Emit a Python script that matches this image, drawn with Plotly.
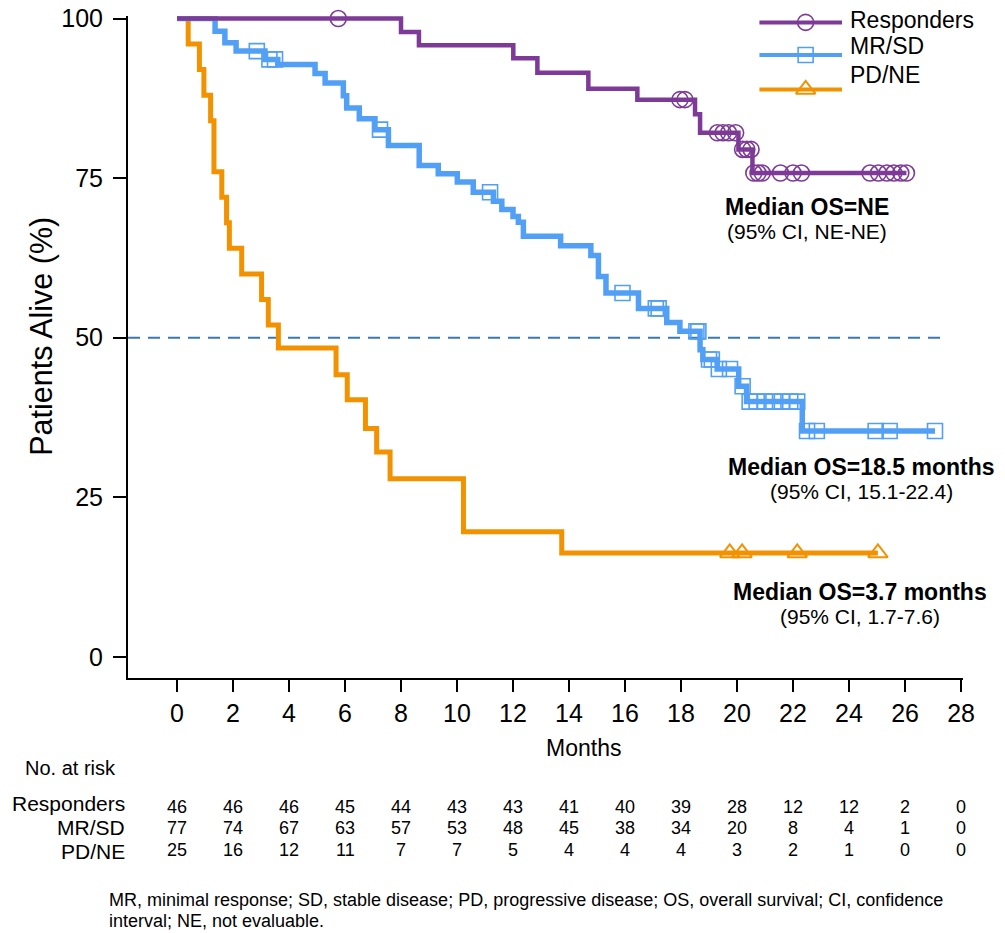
import plotly.graph_objects as go

# ---------------- data ----------------
resp_t = [0, 8.00, 8.64, 12.01, 12.87, 14.69, 16.44, 18.50, 18.68, 20.05, 20.55, 26.05]
resp_s = [100, 97.9, 95.8, 93.8, 91.5, 89.0, 87.3, 85.0, 82.1, 79.5, 75.8, 75.8]
resp_cens = [5.76, 17.96, 18.14, 19.30, 19.50, 19.70, 19.95, 20.20, 20.35, 20.50,
             20.60, 20.75, 20.90, 21.55, 22.00, 22.30, 24.75, 25.05, 25.35, 25.60, 25.85, 26.05]

mrsd_t = [0, 1.36, 1.71, 2.11, 3.14, 3.60, 4.93, 5.29, 5.94, 6.06, 6.51, 7.07, 7.55, 8.65,
          9.33, 10.01, 10.58, 11.30, 11.60, 12.00, 12.19, 12.37, 13.70, 14.78, 15.05, 15.32,
          16.48, 17.49, 17.96, 18.68, 18.78, 19.29, 20.06, 20.34, 22.33, 27.07]
mrsd_s = [100, 98.0, 96.2, 94.9, 93.6, 92.8, 91.4, 89.9, 87.9, 86.0, 84.3, 82.6, 80.1, 77.0,
          75.7, 74.4, 72.8, 71.4, 70.1, 69.0, 68.1, 65.9, 64.4, 62.9, 59.6, 57.0,
          54.6, 52.4, 51.0, 48.1, 46.6, 45.1, 42.4, 40.0, 35.4, 35.4]
mrsd_cens = [2.85, 3.30, 3.50, 7.25, 11.18, 15.91, 17.10, 17.20, 18.55, 18.62, 19.00, 19.10,
             19.35, 19.75, 20.20, 20.45, 20.70, 21.00, 21.30, 21.60, 21.90, 22.15, 22.50, 22.85,
             24.95, 25.45, 27.07]

pdne_t = [0, 0.40, 0.80, 0.96, 1.20, 1.32, 1.60, 1.77, 1.87, 2.31, 3.02, 3.26, 3.62, 5.68,
          6.08, 6.73, 7.13, 7.61, 10.23, 13.74, 25.03]
pdne_s = [100, 96, 92, 88, 84, 76, 72, 68, 64, 60, 56, 52, 48.4, 44.2, 40.3, 35.8, 32.1, 27.9,
          19.6, 16.3, 16.3]
pdne_cens = [19.74, 20.18, 22.15, 25.03]

group_names = ["Responders", "MR/SD", "PD/NE"]
risk_months = [0, 2, 4, 6, 8, 10, 12, 14, 16, 18, 20, 22, 24, 26, 28]
risk_resp = [46, 46, 46, 45, 44, 43, 43, 41, 40, 39, 28, 12, 12, 2, 0]
risk_mrsd = [77, 74, 67, 63, 57, 53, 48, 45, 38, 34, 20, 8, 4, 1, 0]
risk_pdne = [25, 16, 12, 11, 7, 7, 5, 4, 4, 4, 3, 2, 1, 0, 0]

y_ticks = [0, 25, 50, 75, 100]
x_ticks = risk_months
median_level = 50
dash_end = 27.5

medians = [("Median OS=NE", "(95% CI, NE-NE)"),
           ("Median OS=18.5 months", "(95% CI, 15.1-22.4)"),
           ("Median OS=3.7 months", "(95% CI, 1.7-7.6)")]
footnote = ["MR, minimal response; SD, stable disease; PD, progressive disease; OS, overall survival; CI, confidence",
            "interval; NE, not evaluable."]

# ---------------- styling ----------------
FONT = "Liberation Sans, Arial, Helvetica, sans-serif"
C_RESP = "#7d3a96"
C_MRSD = "#52a0f5"
C_PDNE = "#f39200"
C_DASH = "#3a78b0"

W, H = 1005, 933
L, R, T, B = 128, 42, 16.4, 255
PW, PH = W - L - R, H - T - B
XR = [-1.75, 28.07]
YR = [-3.3, 100.4]


def px_x(x):
    return (x - L) / PW


def px_y(y):
    return (H - B - y) / PH


def step_at(ts, ss, t):
    v = ss[0]
    for ti, si in zip(ts, ss):
        if ti <= t:
            v = si
    return v


fig = go.Figure()

series = [
    (pdne_t, pdne_s, pdne_cens, C_PDNE, 5, "triangle-up-open", 17, 2),
    (mrsd_t, mrsd_s, mrsd_cens, C_MRSD, 5.5, "square-open", 15, 1.6),
    (resp_t, resp_s, resp_cens, C_RESP, 4.5, "circle-open", 16, 1.6),
]
for ts, ss, cens, col, lw, sym, msz, mlw in series:
    fig.add_trace(go.Scatter(x=ts, y=ss, mode="lines", line=dict(color=col, width=lw, shape="hv"),
                             showlegend=False, hoverinfo="skip"))
    fig.add_trace(go.Scatter(x=cens, y=[step_at(ts, ss, c) for c in cens], mode="markers",
                             marker=dict(symbol=sym, size=msz, color=col, line=dict(color=col, width=mlw)),
                             cliponaxis=False, showlegend=False, hoverinfo="skip"))

# median reference line
fig.add_shape(type="line", xref="x", yref="y", x0=XR[0], x1=dash_end, y0=median_level, y1=median_level,
              line=dict(color=C_DASH, width=2.2, dash="12px,8px"), layer="below")

# custom legend (in data units of the plot area)
leg_x0, leg_xm, leg_x1 = 20.8, 22.45, 23.75
leg_y = [99.4, 94.3, 88.9]
leg_text_y = [20, 46.7, 75]
leg_style = [(C_RESP, "circle-open", 16, 1.6), (C_MRSD, "square-open", 15, 1.6), (C_PDNE, "triangle-up-open", 17, 2)]
for name, ly, ty, (col, sym, msz, mlw) in zip(group_names, leg_y, leg_text_y, leg_style):
    fig.add_trace(go.Scatter(x=[leg_x0, leg_x1], y=[ly, ly], mode="lines", line=dict(color=col, width=4),
                             showlegend=False, hoverinfo="skip"))
    fig.add_trace(go.Scatter(x=[leg_xm], y=[ly], mode="markers",
                             marker=dict(symbol=sym, size=msz, color=col, line=dict(color=col, width=mlw)),
                             cliponaxis=False, showlegend=False, hoverinfo="skip"))
    fig.add_annotation(x=px_x(848), y=px_y(ty), xref="paper", yref="paper", text=name, showarrow=False,
                       xanchor="left", yanchor="middle", font=dict(size=23, color="black", family=FONT))

# median annotations
med_pos = [(807, 207, 232), (861, 467, 492), (860, 592, 617)]
for (t1, t2), (cx, y1, y2) in zip(medians, med_pos):
    fig.add_annotation(x=px_x(cx), y=px_y(y1), xref="paper", yref="paper", text="<b>" + t1 + "</b>",
                       showarrow=False, xanchor="center", yanchor="middle",
                       font=dict(size=23, color="black", family=FONT))
    fig.add_annotation(x=px_x(cx), y=px_y(y2), xref="paper", yref="paper", text=t2,
                       showarrow=False, xanchor="center", yanchor="middle",
                       font=dict(size=21, color="black", family=FONT))

# axis titles
fig.add_annotation(x=px_x(42), y=px_y(337), xref="paper", yref="paper", text="Patients Alive (%)",
                   textangle=-90, showarrow=False, xanchor="center", yanchor="middle",
                   font=dict(size=30.5, color="black", family=FONT))
fig.add_annotation(x=px_x(583), y=px_y(748), xref="paper", yref="paper", text="Months",
                   showarrow=False, xanchor="center", yanchor="middle",
                   font=dict(size=23, color="black", family=FONT))

# number at risk table
fig.add_annotation(x=px_x(23), y=px_y(768), xref="paper", yref="paper", text="No. at risk",
                   showarrow=False, xanchor="left", yanchor="middle",
                   font=dict(size=20, color="black", family=FONT))
label_y = [803, 827, 851]
num_y = [807, 828, 850]
for name, ly, ny, vals in zip(group_names, label_y, num_y, [risk_resp, risk_mrsd, risk_pdne]):
    fig.add_annotation(x=px_x(127), y=px_y(ly), xref="paper", yref="paper", text=name,
                       showarrow=False, xanchor="right", yanchor="middle",
                       font=dict(size=21, color="black", family=FONT))
    for m, v in zip(risk_months, vals):
        fig.add_annotation(x=m, y=px_y(ny), xref="x", yref="paper", text=str(v),
                           showarrow=False, xanchor="center", yanchor="middle",
                           font=dict(size=18, color="black", family=FONT))

# footnote
for i, line in enumerate(footnote):
    fig.add_annotation(x=px_x(108), y=px_y(900 + 21 * i), xref="paper", yref="paper", text=line,
                       showarrow=False, xanchor="left", yanchor="middle", borderpad=0,
                       font=dict(size=18, color="black", family=FONT))

fig.update_layout(
    width=W, height=H,
    margin=dict(l=L, r=R, t=T, b=B, pad=0, autoexpand=False),
    paper_bgcolor="white", plot_bgcolor="white",
    font=dict(family=FONT, color="black"),
    showlegend=False,
    xaxis=dict(range=XR, tickvals=x_ticks, ticktext=[str(v) for v in x_ticks], showgrid=False,
               zeroline=False, showline=True, linecolor="black", linewidth=2, automargin=False,
               ticks="outside", ticklen=12, tickwidth=2, tickcolor="black",
               tickfont=dict(size=25, color="black", family=FONT)),
    yaxis=dict(range=YR, tickvals=y_ticks, ticktext=[str(v) for v in y_ticks], showgrid=False,
               zeroline=False, showline=True, linecolor="black", linewidth=2, automargin=False,
               ticks="outside", ticklen=13, tickwidth=2, tickcolor="black", ticklabelstandoff=5,
               tickfont=dict(size=25, color="black", family=FONT)),
)

fig.write_html("out.html")
